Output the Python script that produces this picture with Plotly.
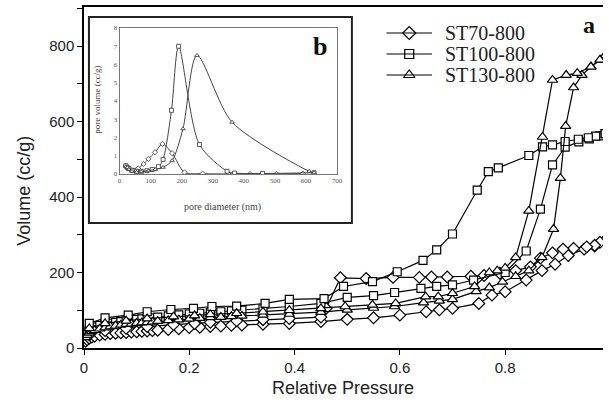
import plotly.graph_objects as go

# ---------------- main isotherms (a) ----------------
st70_ads_p = [0.003, 0.006, 0.01, 0.015, 0.02, 0.03, 0.04, 0.05, 0.06, 0.07, 0.08, 0.09, 0.10, 0.11, 0.12, 0.13, 0.14,
              0.16, 0.18, 0.20, 0.22, 0.24, 0.26, 0.28, 0.30, 0.34, 0.39, 0.45, 0.50, 0.55, 0.60, 0.65, 0.675, 0.70,
              0.75, 0.775, 0.80, 0.84, 0.87, 0.895, 0.92, 0.95, 0.97, 0.99]
st70_ads_v = [18, 22, 26, 29, 31, 34, 36, 38, 39, 40, 41, 42, 43, 44, 45, 46, 47,
              49, 51, 54, 55, 57, 58, 60, 61, 63, 65, 70, 76, 80, 87, 96, 101, 105,
              118, 140, 149, 180, 205, 222, 245, 262, 270, 285]
st70_des_p = [0.99, 0.98, 0.97, 0.955, 0.93, 0.91, 0.89, 0.867, 0.848, 0.82, 0.79, 0.76, 0.735, 0.69, 0.66, 0.637,
              0.587, 0.536, 0.487, 0.46, 0.45, 0.39, 0.34, 0.29, 0.24, 0.21, 0.17, 0.12, 0.08, 0.04, 0.01]
st70_des_v = [285, 280, 272, 268, 264, 262, 252, 238, 215, 205, 198, 192, 190, 188, 188, 187,
              187, 184, 186, 105, 82, 78, 75, 72, 68, 65, 62, 57, 52, 46, 35]

st100_ads_p = [0.003, 0.006, 0.01, 0.015, 0.02, 0.03, 0.04, 0.05, 0.06, 0.07, 0.08, 0.09, 0.10, 0.11, 0.12, 0.13, 0.14,
               0.16, 0.18, 0.20, 0.22, 0.24, 0.26, 0.28, 0.30, 0.34, 0.39, 0.45, 0.50, 0.55, 0.59, 0.64, 0.67, 0.70,
               0.74, 0.80, 0.84, 0.867, 0.89, 0.914, 0.94, 0.96, 0.98, 0.99]
st100_ads_v = [35, 42, 48, 53, 56, 60, 63, 66, 68, 70, 72, 74, 76, 77, 79, 80, 82,
               85, 88, 90, 92, 94, 96, 98, 100, 104, 110, 118, 134, 139, 147, 158, 163, 167,
               180, 200, 257, 368, 485, 532, 546, 554, 562, 568]
st100_des_p = [0.99, 0.972, 0.958, 0.939, 0.914, 0.89, 0.871, 0.845, 0.787, 0.768, 0.747, 0.70, 0.67, 0.644, 0.595,
               0.548, 0.493, 0.456, 0.39, 0.344, 0.29, 0.243, 0.208, 0.165, 0.12, 0.084, 0.04, 0.01]
st100_des_v = [568, 561, 557, 553, 547, 538, 533, 510, 477, 467, 418, 302, 260, 232, 202,
               176, 163, 131, 129, 118, 111, 110, 105, 102, 96, 87, 80, 65]

st130_ads_p = [0.003, 0.006, 0.01, 0.015, 0.02, 0.03, 0.04, 0.05, 0.06, 0.07, 0.08, 0.09, 0.10, 0.11, 0.12, 0.13, 0.14,
               0.16, 0.18, 0.20, 0.22, 0.24, 0.26, 0.28, 0.30, 0.34, 0.39, 0.45, 0.50, 0.55, 0.59, 0.645, 0.675, 0.70,
               0.745, 0.77, 0.795, 0.82, 0.845, 0.87, 0.892, 0.905, 0.915, 0.93, 0.946, 0.963, 0.981, 0.99]
st130_ads_v = [28, 34, 40, 44, 47, 51, 54, 57, 59, 61, 63, 64, 66, 67, 68, 69, 71,
               73, 75, 77, 79, 81, 82, 84, 85, 88, 90, 95, 101, 106, 110, 120, 125, 129,
               150, 160, 175, 190, 205, 240, 315, 450, 588, 690, 723, 745, 763, 775]
st130_des_p = [0.99, 0.98, 0.963, 0.937, 0.916, 0.89, 0.871, 0.845, 0.82, 0.80, 0.785, 0.77, 0.742, 0.70, 0.673,
               0.649, 0.592, 0.548, 0.496, 0.45, 0.39, 0.34, 0.29, 0.24, 0.21, 0.17, 0.12, 0.08, 0.04, 0.01]
st130_des_v = [775, 763, 745, 728, 723, 710, 559, 363, 240, 212, 205, 200, 163, 145, 136,
               136, 118, 114, 110, 105, 100, 96, 92, 89, 86, 83, 78, 72, 65, 52]

series_names = ["ST70-800", "ST100-800", "ST130-800"]

# ---------------- inset pore size distribution (b) ----------------
psd70_d = [20, 25, 30, 40, 50, 60, 77, 93, 114, 138, 169, 209, 267, 350, 420, 505, 590]
psd70_v = [0.45, 0.4, 0.3, 0.2, 0.2, 0.3, 0.55, 0.83, 1.19, 1.65, 1.14, 0.09, 0.02, 0.0, 0.0, 0.0, 0.02]
psd100_d = [20, 25, 30, 40, 55, 70, 88, 105, 125, 140, 167, 190, 257, 346, 370, 460, 626]
psd100_v = [0.45, 0.35, 0.3, 0.2, 0.15, 0.15, 0.18, 0.25, 0.4, 0.8, 3.49, 7.0, 1.61, 0.15, 0.05, 0.03, 0.07]
psd130_d = [20, 25, 30, 40, 55, 70, 93, 115, 140, 169, 204, 249, 362, 610, 626]
psd130_v = [0.4, 0.35, 0.25, 0.15, 0.1, 0.12, 0.18, 0.25, 0.37, 0.73, 2.48, 6.5, 2.84, 0.15, 0.07]

x_ticks = [0, 0.2, 0.4, 0.6, 0.8]
x_ticktext = ["0", "0.2", "0.4", "0.6", "0.8"]
y_ticks = [0, 200, 400, 600, 800]

W, H = 609, 404
L, T, B = 84, 7, 56
plot_w = W - L
plot_h = H - T - B
X_MAX = plot_w / 532.5
Y_MAX = plot_h / 0.3775

def px_x(p):
    return (p - L) / plot_w

def px_y(p):
    return (H - B - p) / plot_h

SANS = "Liberation Sans, Arial, sans-serif"
SERIF = "Liberation Serif, Times New Roman, serif"

fig = go.Figure()

symbols = ["diamond", "square", "triangle-up"]
sizes = [9, 8, 9]
main_data = [
    (st70_ads_p + st70_des_p, st70_ads_v + st70_des_v),
    (st100_ads_p + st100_des_p, st100_ads_v + st100_des_v),
    (st130_ads_p + st130_des_p, st130_ads_v + st130_des_v),
]
for name, sym, sz, (xs, ys) in zip(series_names, symbols, sizes, main_data):
    fig.add_trace(go.Scatter(
        x=xs, y=ys, mode="lines+markers", name=name, showlegend=False,
        line=dict(color="black", width=1.2),
        marker=dict(symbol=sym, size=sz, color="white", line=dict(color="black", width=1.2)),
        xaxis="x", yaxis="y",
    ))

inset_data = [(psd70_d, psd70_v), (psd100_d, psd100_v), (psd130_d, psd130_v)]
for sym, (xs, ys) in zip(symbols, inset_data):
    fig.add_trace(go.Scatter(
        x=xs, y=ys, mode="lines+markers", showlegend=False,
        line=dict(color="#444", width=1, shape="spline", smoothing=0.8),
        marker=dict(symbol=sym, size=4, color="white", line=dict(color="#333", width=0.8)),
        xaxis="x2", yaxis="y2", cliponaxis=True,
    ))

# ---------------- hand-made legend (pixel-space helper axes overlaying the main plot) ----------------
leg_rows = [33, 54, 75]
leg_x0, leg_xm, leg_x1, leg_tx = 390, 413, 436, 447
shapes = []
annotations = []
for name, sym, sz, ry in zip(series_names, symbols, sizes, leg_rows):
    shapes.append(dict(type="line", xref="x3", yref="y3", x0=leg_x0, x1=leg_x1, y0=ry, y1=ry,
                       line=dict(color="black", width=1.2), layer="above"))
    fig.add_trace(go.Scatter(
        x=[leg_xm], y=[ry], mode="markers", showlegend=False, hoverinfo="skip",
        marker=dict(symbol=sym, size=sz + 1, color="white", line=dict(color="black", width=1.2)),
        xaxis="x3", yaxis="y3", cliponaxis=False,
    ))
    annotations.append(dict(text=name, x=leg_tx, y=ry, xref="x3", yref="y3", showarrow=False,
                            xanchor="left", yanchor="middle",
                            font=dict(family=SERIF, size=20, color="#222")))

# inset frame
shapes.append(dict(type="rect", xref="paper", yref="paper",
                   x0=px_x(89), x1=px_x(355), y0=px_y(223), y1=px_y(17),
                   line=dict(color="#222", width=2), fillcolor="white", layer="below"))

fig.update_layout(
    width=W, height=H,
    margin=dict(l=L, r=0, t=T, b=B, pad=0),
    paper_bgcolor="white", plot_bgcolor="white",
    showlegend=False,
    xaxis=dict(domain=[0, 1], range=[0, X_MAX], tickvals=x_ticks, ticktext=x_ticktext,
               showline=True, linecolor="black", linewidth=1.5, mirror=True,
               ticks="outside", ticklen=5, tickcolor="black", showgrid=False, zeroline=False,
               tickfont=dict(family=SANS, size=15, color="#222")),
    yaxis=dict(domain=[0, 1], range=[0, Y_MAX], tickvals=y_ticks,
               showline=True, linecolor="black", linewidth=1.5,
               ticks="outside", ticklen=5, tickcolor="black", showgrid=False, zeroline=False,
               minor=dict(dtick=100, tick0=0, ticks="outside", ticklen=5, tickcolor="black"),
               tickfont=dict(family=SANS, size=15, color="#222")),
    xaxis2=dict(domain=[px_x(120), px_x(340)], range=[0, 700], dtick=100, anchor="y2",
                showline=True, linecolor="#777", linewidth=1, mirror=True,
                ticks="", showgrid=False, zeroline=False,
                tickfont=dict(family=SERIF, size=7, color="#555")),
    yaxis2=dict(domain=[px_y(174), px_y(28)], range=[0, 8], dtick=1, anchor="x2",
                showline=True, linecolor="#777", linewidth=1, mirror=True,
                ticks="", showgrid=False, zeroline=False,
                tickfont=dict(family=SERIF, size=7, color="#555")),
    xaxis3=dict(overlaying="x", range=[L, W], visible=False, anchor="y3", fixedrange=True),
    yaxis3=dict(overlaying="y", range=[H - B, T], visible=False, anchor="x3", fixedrange=True),
)

annotations += [
    dict(text="Relative Pressure", x=px_x(346), y=px_y(388), xref="paper", yref="paper",
         showarrow=False, font=dict(family=SANS, size=18, color="#222"), xanchor="center", yanchor="middle"),
    dict(text="Volume (cc/g)", x=px_x(23), y=px_y(191), xref="paper", yref="paper", textangle=-90,
         showarrow=False, font=dict(family=SANS, size=18, color="#222"), xanchor="center", yanchor="middle"),
    dict(text="pore diameter (nm)", x=px_x(224), y=px_y(207), xref="paper", yref="paper",
         showarrow=False, font=dict(family=SERIF, size=10, color="#444"), xanchor="center", yanchor="middle"),
    dict(text="pore volume (cc/g)", x=px_x(97), y=px_y(100), xref="paper", yref="paper", textangle=-90,
         showarrow=False, font=dict(family=SERIF, size=9, color="#444"), xanchor="center", yanchor="middle"),
    dict(text="<b>b</b>", x=px_x(323), y=px_y(46), xref="paper", yref="paper",
         showarrow=False, font=dict(family=SERIF, size=26, color="#111"), xanchor="center", yanchor="middle"),
    dict(text="<b>a</b>", x=px_x(595), y=px_y(25), xref="paper", yref="paper",
         showarrow=False, font=dict(family=SERIF, size=24, color="#111"), xanchor="center", yanchor="middle"),
]
fig.update_layout(annotations=annotations, shapes=shapes)

fig.write_html("out.html")
